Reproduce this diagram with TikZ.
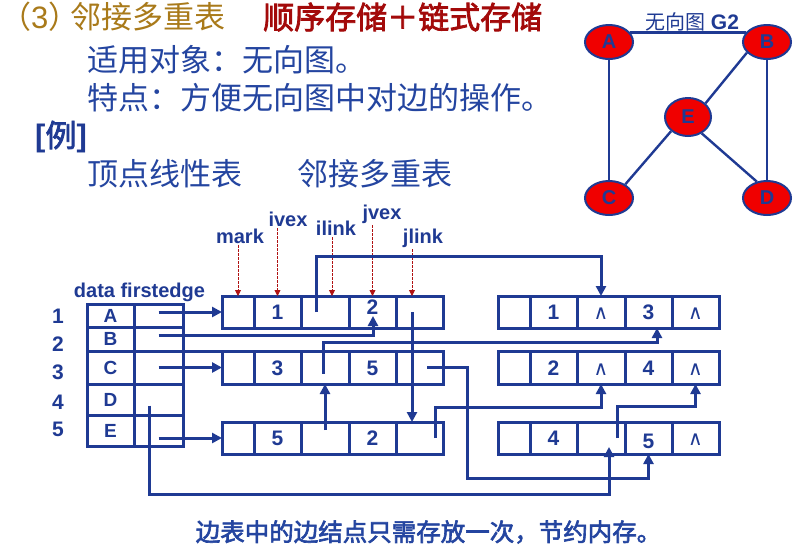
\documentclass[tikz,border=0pt]{standalone}
\usepackage{fontspec}
\setmainfont{Liberation Sans}
\newfontfamily\cjk[AutoFakeBold=2.5]{Noto Sans CJK SC}
\newfontfamily\symfont{DejaVu Sans}
\usetikzlibrary{arrows.meta,shapes.geometric}

\definecolor{ink}{HTML}{1F3A93}
\definecolor{textblue}{HTML}{2445A0}
\definecolor{titlegold}{HTML}{A97A1A}
\definecolor{titlered}{HTML}{A30A0A}
\definecolor{fieldred}{HTML}{B01212}
\definecolor{vertexred}{HTML}{F00000}

\newcommand{\fs}[1]{\fontsize{#1}{#1}\selectfont}
\newcommand{\emptylink}{{\symfont\mdseries\fs{20}∧}}

% one edge node of the multilist: mark | ivex | ilink | jvex | jlink
% #1 name prefix, #2 left x, #3 centre y, #4 height, #5-#8 cell texts
\newcommand{\mlnode}[8]{%
  \node[cell,minimum width=32pt,minimum height=#4] (#1a) at ({#2+16},#3) {};
  \node[cell,minimum width=47pt,minimum height=#4] (#1b) at ({#2+55.5},#3) {#5};
  \node[cell,minimum width=48pt,minimum height=#4] (#1c) at ({#2+103},#3) {#6};
  \node[cell,minimum width=47pt,minimum height=#4] (#1d) at ({#2+150.5},#3) {#7};
  \node[cell,minimum width=47pt,minimum height=#4] (#1e) at ({#2+197.5},#3) {#8};
}

% one row of the vertex table: data | firstedge
% #1 letter, #2 centre y, #3 height, #4 name suffix
\newcommand{\vrow}[4]{%
  \node[tcell,minimum width=47pt,minimum height=#3] (Td#4) at (110.5,#2) {#1};
  \node[tcell,minimum width=49pt,minimum height=#3] (Tf#4) at (158.5,#2) {};
}

\begin{document}
\begin{tikzpicture}[x=1pt,y=-1pt,
  cell/.style={draw=ink,line width=3pt,inner sep=0pt,outer sep=0pt,
    text=ink,font=\bfseries\fs{21},text height=15pt,text depth=0pt},
  tcell/.style={draw=ink,line width=3pt,inner sep=0pt,outer sep=0pt,
    text=ink,font=\bfseries\fs{19}},
  link/.style={draw=ink,line width=3pt,-{Triangle[length=10pt,width=10pt]}},
  plainlink/.style={draw=ink,line width=3pt},
  field/.style={text=ink,font=\bfseries\fs{20},inner sep=0pt,anchor=base},
  fieldptr/.style={draw=fieldred,line width=0.9pt,dash pattern=on 2.5pt off 1.5pt,
    shorten <=2pt,-{Triangle[length=6pt,width=6pt]}},
  vtx/.style={ellipse,draw=ink,fill=vertexred,line width=2pt,
    minimum width=48pt,minimum height=34pt,inner sep=0pt,
    text=ink,font=\bfseries\fs{20}},
  gedge/.style={draw=ink,line width=2.4pt},
  idx/.style={text=ink,font=\bfseries\fs{21},inner sep=0pt},
  cjkline/.style={inner sep=0pt,anchor=west,text=textblue,font=\cjk\fs{31}},
]

\fill[white] (0,0) rectangle (807,550);
\useasboundingbox (0,0) rectangle (807,550);

% ---- heading and explanatory lines
\node[inner sep=0pt,anchor=west,text=titlegold,font=\fs{31}] (title) at (0,17)
  {{\cjk （}3{\cjk ）}\kern-0.3em{\cjk 邻接多重表}};
\node[inner sep=0pt,anchor=west,text=titlered,font=\cjk\bfseries\fs{31}] (storage) at (263,17)
  {顺序存储＋链式存储};
\node[cjkline] (target) at (87,60) {适用对象：无向图。};
\node[cjkline] (feature) at (87,98) {特点：方便无向图中对边的操作。};
\node[inner sep=0pt,anchor=west,text=ink,font=\bfseries\fs{31}] (example) at (35,137)
  {[{\cjk\bfseries 例}]};
\node[cjkline] (vtable) at (87,174) {顶点线性表};
\node[cjkline] (etable) at (297,174) {邻接多重表};

% ---- undirected graph G2
\node[text=ink,font=\fs{21},inner sep=0pt] (gtitle) at (692,22)
  {{\cjk\fs{20}无向图} \textbf{G2}};
\node[vtx] (gA) at (609,42) {A};
\node[vtx] (gB) at (767,42) {B};
\node[vtx,minimum width=46pt,minimum height=38pt] (gE) at (688,117) {E};
\node[vtx] (gC) at (609,198) {C};
\node[vtx] (gD) at (767,198) {D};
\draw[gedge] (gA.24) -- (gB.156);
\draw[gedge] (gA.south) -- (gC.north);
\draw[gedge] (gB.south) -- (gD.north);
\draw[gedge] (gB.208) -- (gE.38);
\draw[gedge] (gE.220) -- (gC.40);
\draw[gedge] (gE.310) -- (gD.122);

% ---- vertex table
\node[field] (thead) at (139.5,297) {data firstedge};
\vrow{A}{315.5}{23pt}{A}
\vrow{B}{339}{24pt}{B}
\vrow{C}{367.5}{33pt}{C}
\vrow{D}{399.5}{31pt}{D}
\vrow{E}{430.5}{31pt}{E}
\node[idx] (i1) at (58,316) {1};
\node[idx] (i2) at (58,344) {2};
\node[idx] (i3) at (58,372) {3};
\node[idx] (i4) at (58,402) {4};
\node[idx] (i5) at (58,429) {5};

% ---- edge nodes
\mlnode{L1}{222}{312}{32pt}{1}{}{\raisebox{5pt}{2}}{}
\mlnode{L2}{222}{367.5}{33pt}{3}{}{5}{}
\mlnode{L3}{222}{438}{32pt}{5}{}{2}{}
\mlnode{R1}{498}{312}{32pt}{1}{\emptylink}{3}{\emptylink}
\mlnode{R2}{498}{367.5}{33pt}{2}{\emptylink}{4}{\emptylink}
\mlnode{R3}{498}{438}{32pt}{4}{}{\raisebox{-3pt}{5}}{\emptylink}

% ---- field names
\node[field] (fmark) at (240,243) {mark};
\node[field] (fivex) at (288,226) {ivex};
\node[field] (filink) at (336,235) {ilink};
\node[field] (fjvex) at (382,219) {jvex};
\node[field] (fjlink) at (423,243) {jlink};
\coordinate (ilinkTop) at ([xshift=7pt]L1c.north);
\coordinate (jlinkTop) at ([xshift=-7.5pt]L1e.north);
\draw[fieldptr] (L1a.north |- fmark.south) -- (L1a.north);
\draw[fieldptr] (L1b.north |- fivex.south) -- (L1b.north);
\draw[fieldptr] (ilinkTop |- filink.south) -- (ilinkTop);
\draw[fieldptr] (L1d.north |- fjvex.south) -- (L1d.north);
\draw[fieldptr] (jlinkTop |- fjlink.south) -- (jlinkTop);

% ---- firstedge pointers
\draw[link] (TfA.center |- L1a.west) -- (L1a.west);
\draw[link] ([yshift=4pt]TfB.center) -| ([xshift=0.5pt,yshift=12pt]L1d.south);
\draw[plainlink] (TfC.north east) -- (L2a.north west);
\draw[link] (TfC.center |- L2a.west) -- (L2a.west);
\draw[link] ([xshift=-9pt,yshift=-6pt]TfD.center) -- ++(0,88.5)
  -| ([xshift=8pt,yshift=7pt]R3c.south);
\draw[link] (TfE.center |- L3a.west) -- (L3a.west);

% ---- ilink / jlink pointers
\draw[link] ([xshift=-9pt]L1c.center) -- ++(0,-56) -| (R1c.north);
\draw[link] ([xshift=-7.5pt]L1e.center) -- ([xshift=-7.5pt]L3e.north);
\draw[link] ([xshift=-2pt,yshift=-6pt]L2c.center) -- ++(0,-31)
  -| ([xshift=8.5pt]R1d.south);
\draw[link] ([xshift=7.5pt]L2e.center) -- ++(40,0) -- ++(0,110.5) -| (R3d.south);
\draw[link] ([yshift=8pt]L3c.center) -- (L2c.south);
\draw[link] ([xshift=15.5pt]L3e.center) -- ++(0,-31) -| (R2c.south);
\draw[link] ([xshift=16pt]R3c.center) -- ++(0,-32) -| (R2e.south);

% ---- note
\node[text=textblue,font=\cjk\bfseries\fs{24.5},inner sep=0pt] (note) at (428.5,532)
  {边表中的边结点只需存放一次，节约内存。};
\end{tikzpicture}
\end{document}
